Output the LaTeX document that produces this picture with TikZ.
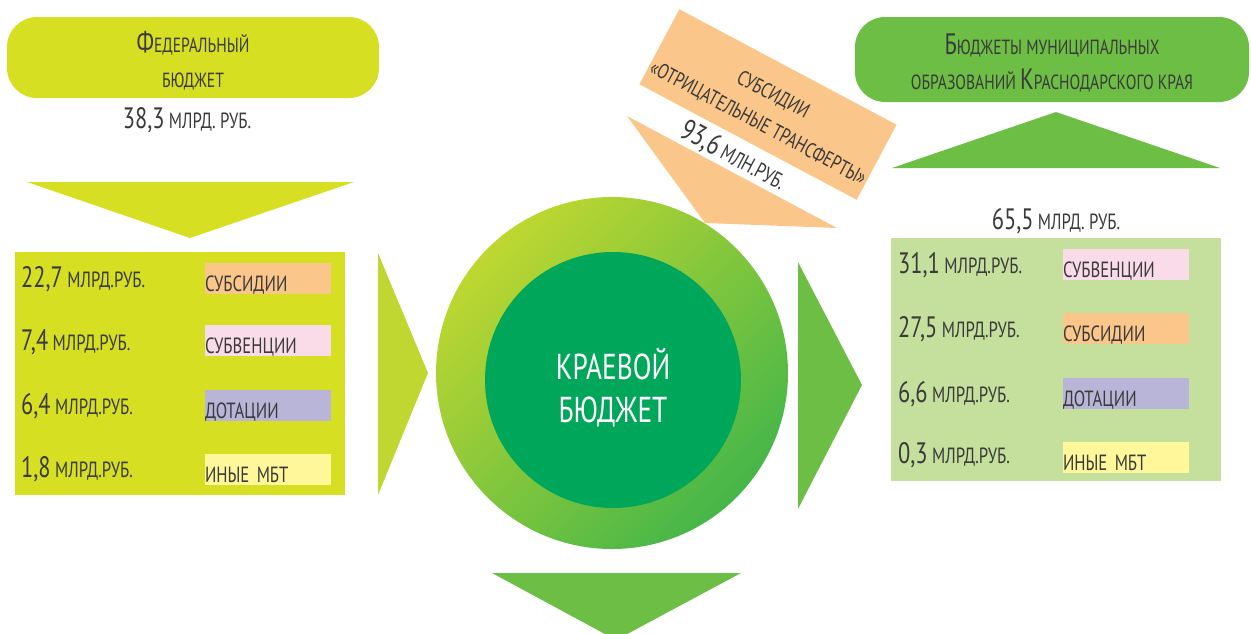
\documentclass[tikz,border=0pt]{standalone}
\usepackage{fontspec}
\setmainfont{PT Sans}[FakeStretch=0.76]
\usepackage{tikz}
\usetikzlibrary{positioning, shapes.geometric, calc}

\definecolor{fedlime}{HTML}{D7DF23}
\definecolor{chevlime}{HTML}{BFD730}
\definecolor{greenmid}{HTML}{6DBE45}
\definecolor{greenpale}{HTML}{C5DF9C}
\definecolor{coregreen}{HTML}{00A65A}
\definecolor{ringgreen}{HTML}{45B649}
\definecolor{subsidy}{HTML}{FBC689}
\definecolor{subvention}{HTML}{F9DCE8}
\definecolor{dotation}{HTML}{B8B5D9}
\definecolor{othermbt}{HTML}{FFF799}
\definecolor{txtgray}{HTML}{3A3A3B}

\newcommand{\numfont}{\fontsize{29.5}{31}\selectfont}
\newcommand{\capfont}{\fontsize{22}{25}\selectfont}
\newcommand{\headfont}{\fontsize{20.5}{35.5}\selectfont}
\newcommand{\bignum}[1]{{\numfont #1}}

\tikzset{
  headbox/.style={rectangle, rounded corners=30pt, align=center, inner sep=0, text height=60pt, text depth=0pt, font=\headfont},
  databox/.style={rectangle, minimum width=330pt, minimum height=243pt, inner sep=0},
  tagbox/.style={rectangle, minimum width=126pt, minimum height=31pt, inner sep=0, text width=126pt, align=left, text height=28.5pt, text depth=2.5pt, font=\capfont},
  amount/.style={inner sep=0, anchor=base west, font=\capfont},
  total/.style={inner sep=0, anchor=base, font=\capfont},
  banner/.style={rectangle, rotate=-28, fill=subsidy, minimum width=246pt, minimum height=85pt, inner sep=0, align=center, text height=55pt, text depth=0pt, font=\fontsize{21}{32}\selectfont}
}

\begin{document}
\begin{tikzpicture}[x=1pt, y=-1pt, every node/.style={text=txtgray}]
    \useasboundingbox (0,0) rectangle (1251,633);

    % federal budget
    \node (fed) [headbox, fill=fedlime, minimum width=372pt, minimum height=81pt] at (193,57.5) {{\numfont Ф}ЕДЕРАЛЬНЫЙ\\БЮДЖЕТ};
    \node (fedsum) [total] at (187,128) {\bignum{38,3} МЛРД. РУБ.};
    \fill[fedlime] (27,182) -- (354,182) -- (190,238) -- cycle;

    \node (fedbox) [databox, fill=fedlime] at (180,373.5) {};
    \node (lamt1) [amount] at (21,287) {\bignum{22,7} МЛРД.РУБ.};
    \node (lamt2) [amount] at (21,350) {\bignum{7,4} МЛРД.РУБ.};
    \node (lamt3) [amount] at (21,414) {\bignum{6,4} МЛРД.РУБ.};
    \node (lamt4) [amount] at (21,477) {\bignum{1,8} МЛРД.РУБ.};
    \node (ltag1) [tagbox, fill=subsidy] at (268,278) {СУБСИДИИ};
    \node (ltag2) [tagbox, fill=subvention] at (268,340.5) {СУБВЕНЦИИ};
    \node (ltag3) [tagbox, fill=dotation] at (268,405.5) {ДОТАЦИИ};
    \node (ltag4) [tagbox, fill=othermbt] at (268,469.5) {ИНЫЕ МБТ};

    \fill[chevlime] (378,253) -- (428,373) -- (378,495) -- cycle;

    % regional budget
    \node (ring) [circle, minimum size=352pt, top color=chevlime, bottom color=ringgreen, shading angle=45] at (612,373) {};
    \node (core) [circle, fill=coregreen, minimum size=256pt, inner sep=0, align=center, text=white, text height=84pt, text depth=0pt, font=\fontsize{36}{43}\selectfont] at (613,380) {КРАЕВОЙ\\БЮДЖЕТ};

    \fill[greenmid] (798,262) -- (862,385) -- (798,509) -- cycle;
    \fill[greenmid] (492,573) -- (741,573) -- (616,640) -- cycle;

    % negative transfers
    \fill[subsidy] (627,116) -- (837,228) -- (705,223) -- cycle;
    \node (band) [banner] at (768,104.5) {СУБСИДИИ\\«ОТРИЦАТЕЛЬНЫЕ ТРАНСФЕРТЫ»};
    \node (bandsum) [rotate=-28, inner sep=0, font=\capfont] at (733,156) {\bignum{93,6} МЛН.РУБ.};

    % municipal budgets
    \node (mun) [headbox, fill=greenmid, minimum width=394pt, minimum height=85pt] at (1052,59.5) {{\numfont Б}ЮДЖЕТЫ МУНИЦИПАЛЬНЫХ\\ОБРАЗОВАНИЙ {\numfont К}РАСНОДАРСКОГО КРАЯ};
    \fill[greenmid] (892,168) -- (1220,168) -- (1056,112) -- cycle;
    \node (munsum) [total] at (1056,229) {\bignum{65,5} МЛРД. РУБ.};

    \node (munbox) [databox, fill=greenpale] at (1056,359) {};
    \node (ramt1) [amount] at (898,273) {\bignum{31,1} МЛРД.РУБ.};
    \node (ramt2) [amount] at (898,337) {\bignum{27,5} МЛРД.РУБ.};
    \node (ramt3) [amount] at (898,402) {\bignum{6,6} МЛРД.РУБ.};
    \node (ramt4) [amount] at (898,463) {\bignum{0,3} МЛРД.РУБ.};
    \node (rtag1) [tagbox, fill=subvention] at (1126,264.5) {СУБВЕНЦИИ};
    \node (rtag2) [tagbox, fill=subsidy] at (1126,328.5) {СУБСИДИИ};
    \node (rtag3) [tagbox, fill=dotation] at (1126,393.5) {ДОТАЦИИ};
    \node (rtag4) [tagbox, fill=othermbt] at (1126,457.5) {ИНЫЕ МБТ};
\end{tikzpicture}
\end{document}
